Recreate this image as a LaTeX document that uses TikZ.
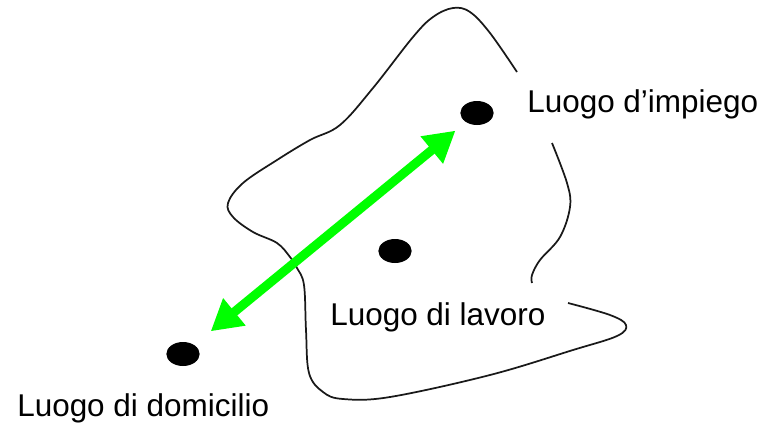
\documentclass[tikz,border=0pt]{standalone}
\usepackage{fontspec}
\setmainfont{Liberation Sans}
\usetikzlibrary{arrows.meta,shapes.geometric}
\definecolor{arrowgreen}{RGB}{0,255,0}
\begin{document}
\begin{tikzpicture}[x=0.75pt,y=-0.75pt,
  dot/.style={ellipse,fill=black,draw=none,minimum width=25pt,minimum height=18pt,inner sep=0pt},
  lbl/.style={anchor=base west,inner sep=0pt,font=\fontsize{23.6pt}{28pt}\selectfont},
  outline/.style={draw=black!90,line width=1.3pt,smooth,tension=0.6},
  commute/.style={draw=arrowgreen,line width=6.8pt,{Triangle[length=23pt,width=25pt]}-{Triangle[length=23pt,width=25pt]}}]
\useasboundingbox (0,0) rectangle (767,429);
% outline of the area
\draw[outline] plot coordinates {(552,143) (567,183) (570,207) (560,237) (540,260) (532,275) (532,283)};
\draw[outline] plot coordinates {(568,303) (610,315) (626,325) (617,336) (573,350) (490,375) (390,397) (343,399) (323,392) (309,373) (306,330) (304,285) (297,268) (290,257) (277,243) (253,232) (233,217) (228,203) (243,183) (277,160) (310,140) (340,125) (373,88) (413,37) (433,17) (453,8) (470,12) (490,33) (517,72)};
% places
\node[dot] (imp) at (477,113) {};
\node[dot] (lav) at (395,251) {};
\node[dot] (dom) at (183,354) {};
% labels
\node[lbl] (limp) at (527,112.7) {Luogo d’impiego};
\node[lbl] (llav) at (330,325) {Luogo di lavoro};
\node[lbl] (ldom) at (17,416) {Luogo di domicilio};
% commute arrow
\draw[commute,shorten <=16pt,shorten >=10pt] (dom) -- (imp);
\end{tikzpicture}
\end{document}
